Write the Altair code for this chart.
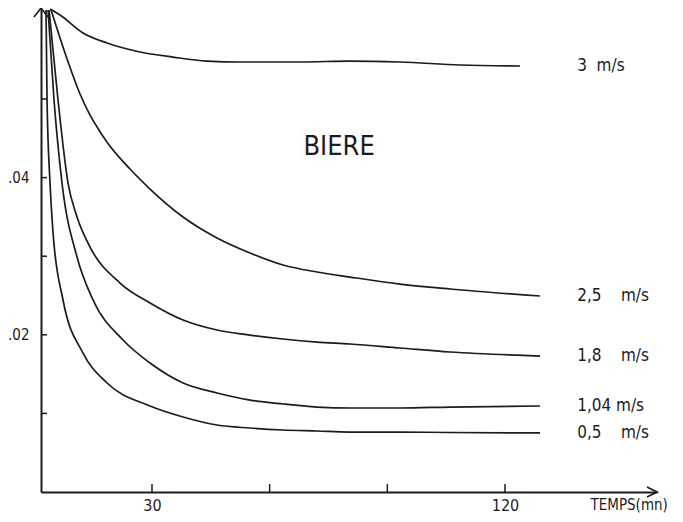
import altair as alt
import pandas as pd

# ---------------- data ----------------
speeds = ["3\u00a0\u00a0m/s", "2,5\u00a0\u00a0\u00a0\u00a0m/s", "1,8\u00a0\u00a0\u00a0\u00a0m/s",
          "1,04\u00a0m/s", "0,5\u00a0\u00a0\u00a0\u00a0m/s"]

t_3 = [4.0, 6.55, 12.42, 18.54, 26.95, 35.36, 44.03, 52.45, 67.75, 80.49, 93.24, 108.54, 123.84]
v_3 = [0.06145, 0.06069, 0.0584, 0.05712, 0.05598, 0.05534, 0.05483, 0.05471, 0.05471, 0.05483, 0.05471, 0.05433, 0.0542]

t_25 = [4.27, 8.08, 11.65, 14.2, 16.0, 18.5, 24.4, 29.5, 37.92, 46.58, 55.0, 63.41, 72.08, 80.49, 93.24, 105.99, 128.93]
v_25 = [0.06132, 0.05547, 0.05064, 0.04796, 0.04644, 0.04453, 0.04109, 0.03855, 0.03499, 0.03232, 0.03041, 0.02888, 0.02799, 0.02735, 0.02646, 0.02583, 0.02494]

t_18 = [3.75, 6.04, 8.59, 10.89, 14.2, 21.85, 29.5, 37.92, 46.58, 55.0, 63.41, 72.08, 80.49, 93.24, 105.99, 128.93]
v_18 = [0.06132, 0.04987, 0.03931, 0.03499, 0.03117, 0.02659, 0.02405, 0.02188, 0.02061, 0.01997, 0.01947, 0.01908, 0.01883, 0.01832, 0.01781, 0.0173]

t_104 = [3.49, 5.02, 7.06, 10.89, 14.97, 22.62, 29.5, 37.92, 46.58, 55.0, 63.41, 72.08, 80.49, 93.24, 105.99, 128.93]
v_104 = [0.06132, 0.04987, 0.03931, 0.0299, 0.02443, 0.01934, 0.01641, 0.01387, 0.0126, 0.0117, 0.0112, 0.01081, 0.01069, 0.01069, 0.01081, 0.01094]

t_05 = [2.98, 3.24, 4.0, 4.77, 7.32, 12.42, 18.54, 29.5, 37.92, 46.58, 55.0, 63.41, 72.08, 80.49, 93.24, 105.99, 128.93]
v_05 = [0.06132, 0.04987, 0.03931, 0.03295, 0.02443, 0.01768, 0.01387, 0.01094, 0.00954, 0.00852, 0.00814, 0.00789, 0.00776, 0.00763, 0.00763, 0.00757, 0.00751]

x_ticks = [30, 60, 90, 120]
x_labels = [30, 120]
y_ticks = [0.01, 0.02, 0.03, 0.04, 0.05]
y_labels = [0.02, 0.04]
title_text = "BIERE"
x_title = "TEMPS(mn)"

# ---------------- build tables ----------------
series_t = [t_3, t_25, t_18, t_104, t_05]
series_v = [v_3, v_25, v_18, v_104, v_05]
rows = []
for name, ts, vs in zip(speeds, series_t, series_v):
    for i, (t, v) in enumerate(zip(ts, vs)):
        rows.append({"speed": name, "i": i, "t": t, "v": v})
df = pd.DataFrame(rows)
df_lab = pd.DataFrame({"speed": speeds, "v": [vs[-1] for vs in series_v], "t": [138.4] * len(speeds)})

X_DOMAIN = [1.7, 158.76]
Y_DOMAIN = [0.0, 0.06158]
INK = "#1c1c1c"
FONT = "DejaVu Sans Condensed, Liberation Sans Narrow, DejaVu Sans"

xs = alt.Scale(domain=X_DOMAIN, nice=False, zero=False)
ys = alt.Scale(domain=Y_DOMAIN, nice=False, zero=False)

x_axis = alt.Axis(values=x_labels, grid=False, ticks=False, tickSize=0, domain=True,
                  domainColor=INK, domainWidth=2, labelFont=FONT, labelFontSize=16,
                  labelColor=INK, labelPadding=5, title=x_title, titleFont=FONT,
                  titleFontSize=15, titleFontWeight="normal", titleColor=INK,
                  titleAlign="left", titleBaseline="middle", titleAnchor="start",
                  titleX=549, titleY=12)
y_axis = alt.Axis(values=y_labels, grid=False, ticks=False, tickSize=0, domain=True,
                  domainColor=INK, domainWidth=2, labelFont=FONT, labelFontSize=15,
                  labelColor=INK, labelPadding=12, title=None,
                  labelExpr="datum.value > 0.03 ? '.04' : '.02'")

lines = alt.Chart(df).mark_line(color=INK, strokeWidth=1.7, interpolate="monotone").encode(
    x=alt.X("t:Q", scale=xs, axis=x_axis),
    y=alt.Y("v:Q", scale=ys, axis=y_axis),
    detail="speed:N",
    order="i:Q",
)

xt = alt.Chart(pd.DataFrame({"t": x_ticks})).mark_rule(color=INK, strokeWidth=1.5).encode(
    x=alt.X("t:Q", scale=xs), y=alt.value(484), y2=alt.value(476))
yt = alt.Chart(pd.DataFrame({"v": y_ticks})).mark_rule(color=INK, strokeWidth=1.5).encode(
    y=alt.Y("v:Q", scale=ys), x=alt.value(0), x2=alt.value(6))

# open arrow heads at the ends of both axes
arrow_x = alt.Chart(pd.DataFrame({"t": [X_DOMAIN[1]], "v": [Y_DOMAIN[0]]})).mark_point(
    shape="M-2,-1L0,0L-2,1", size=100, filled=False, strokeWidth=1.8, opacity=1, color=INK).encode(
    x=alt.X("t:Q", scale=xs), y=alt.Y("v:Q", scale=ys))
arrow_y = alt.Chart(pd.DataFrame({"t": [X_DOMAIN[0]], "v": [Y_DOMAIN[1]]})).mark_point(
    shape="M-1.75,2.25L0,0L1.75,2.25", size=64, filled=False, strokeWidth=1.6, opacity=1, color=INK).encode(
    x=alt.X("t:Q", scale=xs), y=alt.Y("v:Q", scale=ys))

labels = alt.Chart(df_lab).mark_text(align="left", baseline="middle", font=FONT,
                                     fontSize=17, color=INK).encode(
    x=alt.X("t:Q", scale=xs), y=alt.Y("v:Q", scale=ys), text="speed:N")

title = alt.Chart(pd.DataFrame({"t": [77.7], "v": [0.0439], "s": [title_text]})).mark_text(
    align="center", baseline="middle", font=FONT, fontSize=27, color=INK).encode(
    x=alt.X("t:Q", scale=xs), y=alt.Y("v:Q", scale=ys), text="s:N")

chart = alt.layer(lines, xt, yt, arrow_x, arrow_y, labels, title).properties(
    width=616, height=484,
    padding={"left": 33, "top": 0, "right": 18, "bottom": 22},
    autosize=alt.AutoSizeParams(type="none"),
    background="white",
).configure_view(stroke="transparent", strokeWidth=0)

chart.save("out.html", embed_options={"renderer": "svg", "actions": False})
